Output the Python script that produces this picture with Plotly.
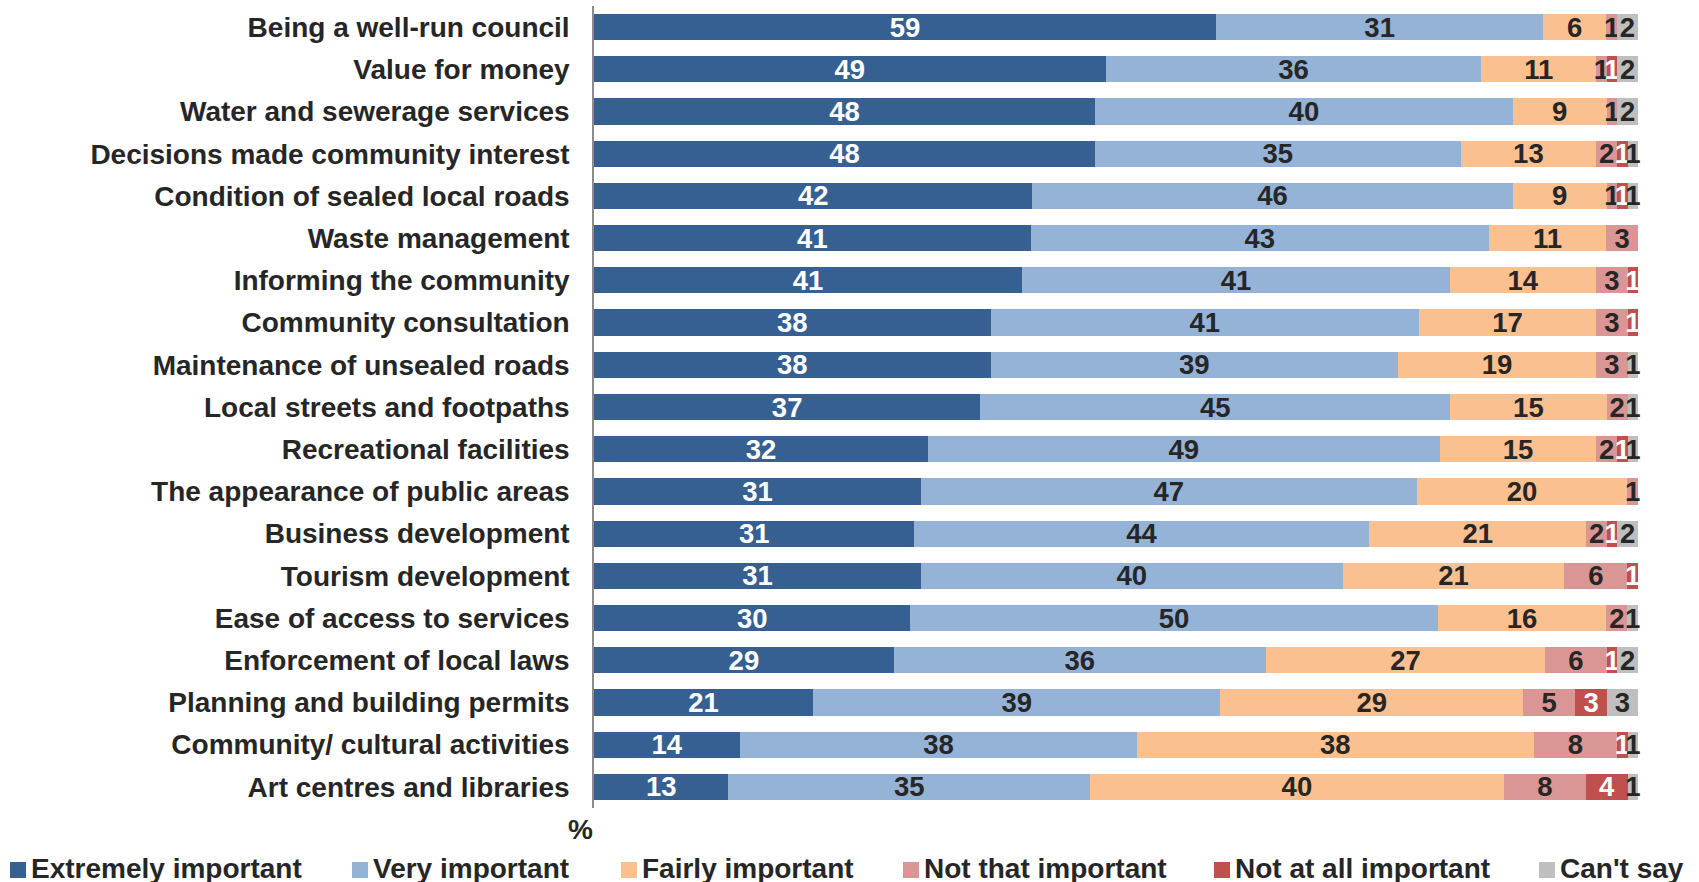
import plotly.graph_objects as go

# Attributes rated, top to bottom
categories = [
    "Being a well-run council",
    "Value for money",
    "Water and sewerage services",
    "Decisions made community interest",
    "Condition of sealed local roads",
    "Waste management",
    "Informing the community",
    "Community consultation",
    "Maintenance of unsealed roads",
    "Local streets and footpaths",
    "Recreational facilities",
    "The appearance of public areas",
    "Business development",
    "Tourism development",
    "Ease of access to services",
    "Enforcement of local laws",
    "Planning and building permits",
    "Community/ cultural activities",
    "Art centres and libraries",
]

# Percentage of respondents per importance rating (0 = not reported)
extremely_important = [59, 49, 48, 48, 42, 41, 41, 38, 38, 37, 32, 31, 31, 31, 30, 29, 21, 14, 13]
very_important = [31, 36, 40, 35, 46, 43, 41, 41, 39, 45, 49, 47, 44, 40, 50, 36, 39, 38, 35]
fairly_important = [6, 11, 9, 13, 9, 11, 14, 17, 19, 15, 15, 20, 21, 21, 16, 27, 29, 38, 40]
not_that_important = [1, 1, 1, 2, 1, 3, 3, 3, 3, 2, 2, 1, 2, 6, 2, 6, 5, 8, 8]
not_at_all_important = [0, 1, 0, 1, 1, 0, 1, 1, 0, 0, 1, 0, 1, 1, 0, 1, 3, 1, 4]
cant_say = [2, 2, 2, 1, 1, 0, 0, 0, 1, 1, 1, 0, 2, 0, 1, 2, 3, 1, 1]

series_names = [
    "Extremely important",
    "Very important",
    "Fairly important",
    "Not that important",
    "Not at all important",
    "Can't say",
]
series_values = [
    extremely_important,
    very_important,
    fairly_important,
    not_that_important,
    not_at_all_important,
    cant_say,
]

bar_colors = ["#376092", "#95B3D7", "#FAC090", "#D99694", "#C0504D", "#BFBFBF"]
label_colors = ["#FFFFFF", "#262626", "#262626", "#262626", "#FFFFFF", "#262626"]

FONT = "Liberation Sans, Arial, sans-serif"
DARK = "#262626"

# Page and plot-area geometry (pixels)
W, H = 1699, 882
ml, mr, mt, mb = 594, 61, 6, 74
plot_w = W - ml - mr
plot_h = H - mt - mb


def px_x(px):
    """Horizontal pixel position -> paper coordinate."""
    return (px - ml) / plot_w


def px_y(py):
    """Vertical pixel position (from top) -> paper coordinate."""
    return (mt + plot_h - py) / plot_h


fig = go.Figure()
for name, vals, col, lcol in zip(series_names, series_values, bar_colors, label_colors):
    fig.add_trace(
        go.Bar(
            name=name,
            y=categories,
            x=vals,
            orientation="h",
            marker=dict(color=col, line=dict(width=0)),
            text=[str(v) if v else "" for v in vals],
            texttemplate="%{text}",
            textposition="inside",
            insidetextanchor="middle",
            constraintext="none",
            textangle=0,
            textfont=dict(family=FONT, size=27.5, color=lcol, weight="bold"),
            cliponaxis=False,
            hoverinfo="skip",
            showlegend=False,
        )
    )

# Legend row along the bottom: colour key square followed by the series name
legend_left = [10, 352, 621, 903, 1214, 1539]
key_size = 16
key_top = 862
shapes = []
annotations = []
for name, col, left in zip(series_names, bar_colors, legend_left):
    shapes.append(
        dict(
            type="rect",
            xref="paper",
            yref="paper",
            x0=px_x(left),
            x1=px_x(left + key_size),
            y0=px_y(key_top + key_size),
            y1=px_y(key_top),
            fillcolor=col,
            line=dict(width=0),
            layer="above",
        )
    )
    annotations.append(
        dict(
            text=name,
            xref="paper",
            yref="paper",
            x=px_x(left + key_size + 3),
            y=px_y(868),
            xanchor="left",
            yanchor="middle",
            showarrow=False,
            font=dict(family=FONT, size=28, color=DARK, weight="bold"),
        )
    )

# Value axis unit
annotations.append(
    dict(
        text="%",
        xref="paper",
        yref="paper",
        x=px_x(580),
        y=px_y(829),
        xanchor="center",
        yanchor="middle",
        showarrow=False,
        font=dict(family=FONT, size=28, color=DARK, weight="bold"),
    )
)

fig.update_layout(
    width=W,
    height=H,
    barmode="stack",
    barnorm="percent",
    bargap=0.38,
    margin=dict(l=ml, r=mr, t=mt, b=mb, pad=0, autoexpand=False),
    paper_bgcolor="white",
    plot_bgcolor="white",
    font=dict(family=FONT, size=28, color=DARK, weight="bold"),
    showlegend=False,
    xaxis=dict(
        range=[0, 100],
        showticklabels=False,
        showgrid=False,
        zeroline=False,
        showline=False,
        ticks="",
        fixedrange=True,
    ),
    yaxis=dict(
        categoryorder="array",
        categoryarray=categories,
        autorange="reversed",
        showline=True,
        linecolor="#8C8C8C",
        linewidth=1.5,
        ticks="",
        showgrid=False,
        zeroline=False,
        ticklabelstandoff=17,
        tickfont=dict(family=FONT, size=28, color=DARK, weight="bold"),
        fixedrange=True,
    ),
    shapes=shapes,
    annotations=annotations,
)

fig.write_html("out.html", config={"displayModeBar": False})
